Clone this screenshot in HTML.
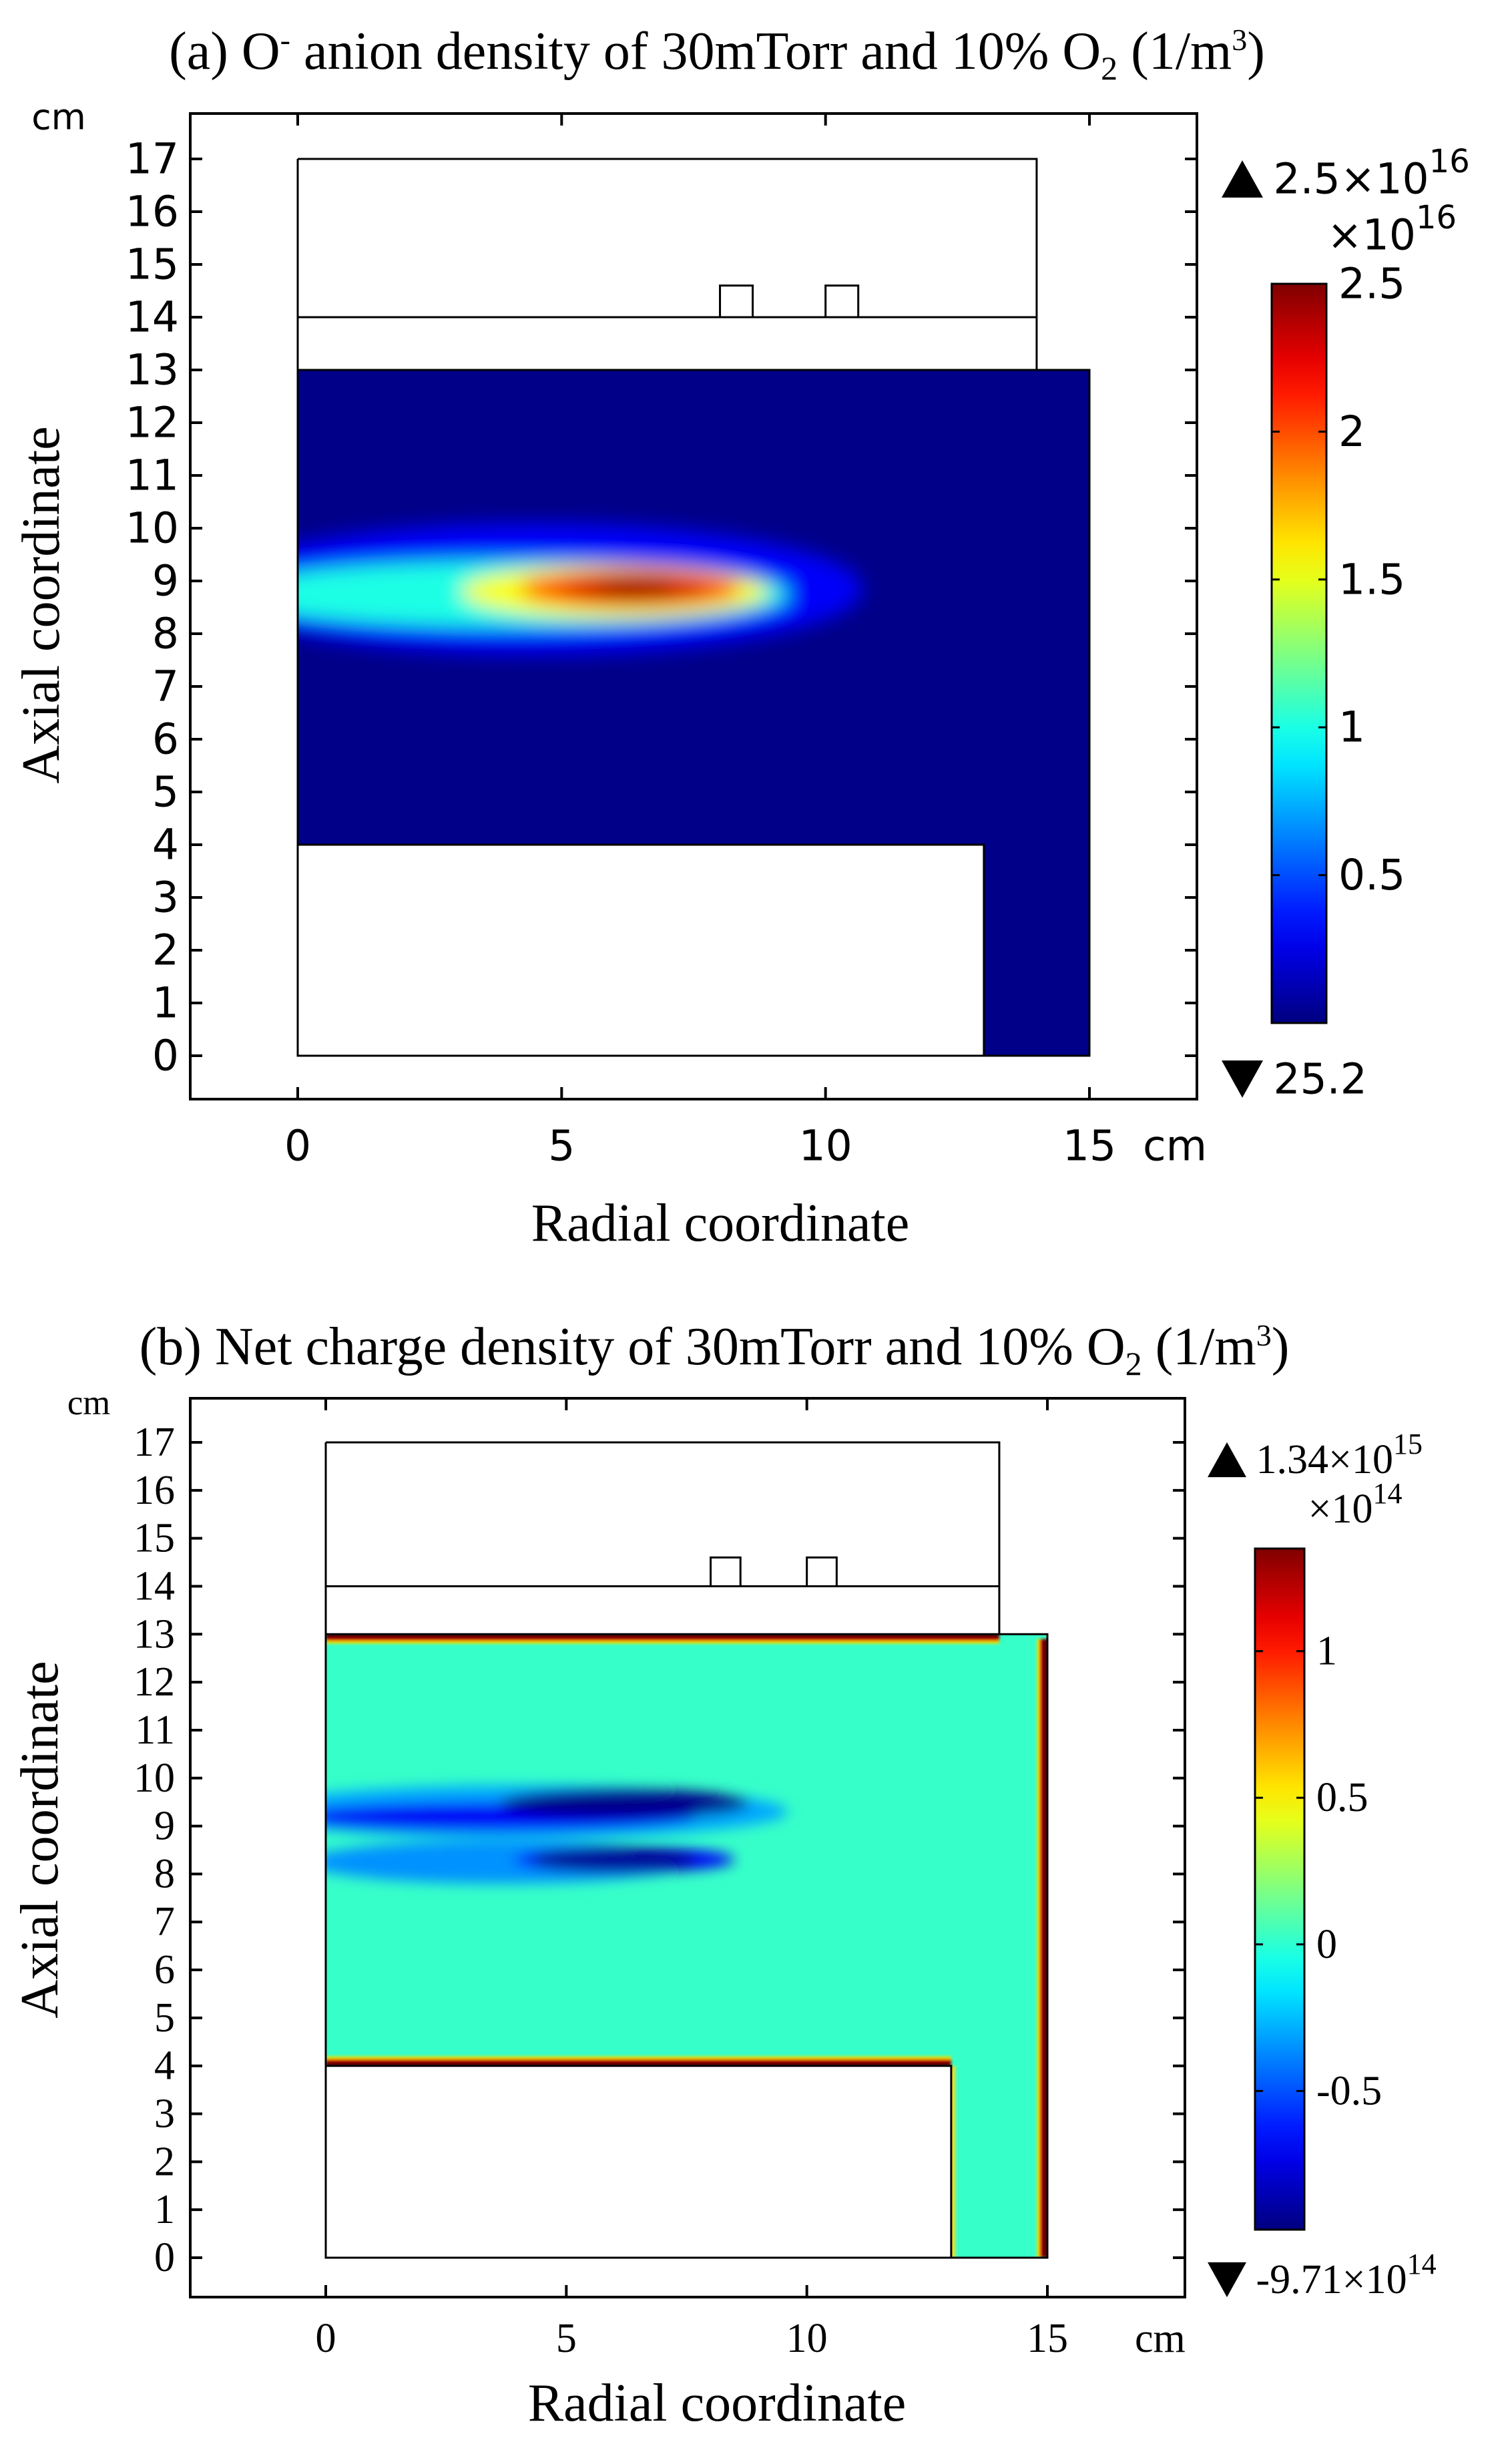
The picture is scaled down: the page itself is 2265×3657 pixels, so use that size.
<!DOCTYPE html>
<html><head><meta charset="utf-8">
<style>
html,body{margin:0;padding:0;background:#fff;}
svg{display:block;}
.sans{font-family:"DejaVu Sans","Liberation Sans",sans-serif;}
.serif{font-family:"Liberation Serif","DejaVu Serif",serif;}
</style></head>
<body>
<svg id="fig" width="2265" height="3657" viewBox="0 0 2265 3657" xmlns="http://www.w3.org/2000/svg">
<defs>
<filter id="blurA" x="-20%" y="-20%" width="140%" height="140%"><feGaussianBlur stdDeviation="15"/></filter>
<filter id="blurB" x="-20%" y="-20%" width="140%" height="140%"><feGaussianBlur stdDeviation="10"/></filter>
<filter id="blurE" x="-5%" y="-5%" width="110%" height="110%"><feGaussianBlur stdDeviation="2"/></filter>
</defs>
</svg>
<script>
// ---- data (panel a) ----
const aYTicks=[0,1,2,3,4,5,6,7,8,9,10,11,12,13,14,15,16,17];
const aXTicks=[0,5,10,15];
const aCbTicks=[0.5,1,1.5,2,2.5];
const aCbRange=[0.0,2.5];
// plume contours: [r centre, z centre, r radius, z radius, value]
const aBlobR=[4.5,4.0,6.0,6.3,6.4,6.4];
const aBlobZ=[8.85,8.75,8.8,8.85,8.85,8.88];
const aBlobRx=[6.2,5.3,2.9,2.1,1.4,0.75];
const aBlobRz=[1.25,0.62,0.5,0.36,0.24,0.14];
const aBlobV=[0.3,1.0,1.55,2.0,2.3,2.5];
// ---- data (panel b) ----
const bYTicks=aYTicks;
const bXTicks=[0,5,10,15];
const bCbTicks=[-0.5,0,0.5,1];
const bCbRange=[-0.973,1.35];
const bBlobR=[4.0,3.5,6.2,3.6,6.2,6.0];
const bBlobZ=[9.3,9.2,9.47,8.25,8.3,8.3];
const bBlobRx=[5.6,4.2,2.6,4.0,2.3,1.7];
const bBlobRz=[0.55,0.3,0.3,0.45,0.27,0.27];
const bBlobV=[-0.3,-0.7,-0.95,-0.35,-0.7,-0.92];

const NS="http://www.w3.org/2000/svg";
const svg=document.getElementById('fig');
function el(tag,attrs,parent){const e=document.createElementNS(NS,tag);for(const k in attrs)e.setAttribute(k,attrs[k]);(parent||svg).appendChild(e);return e;}
function jet(t){t=Math.max(0,Math.min(1,t));
 const r=Math.max(0,Math.min(1,1.5-Math.abs(4*t-3))),g=Math.max(0,Math.min(1,1.5-Math.abs(4*t-2))),b=Math.max(0,Math.min(1,1.5-Math.abs(4*t-1)));
 return `rgb(${Math.round(r*255)},${Math.round(g*255)},${Math.round(b*255)})`;}

function panel(P){
 const g=el('g',{});
 
 
 const X=r=>P.x0+(P.x15-P.x0)*r/15, Y=z=>P.y0+(P.y17-P.y0)*z/17;
 const norm=v=>(v-P.cb[0])/(P.cb[1]-P.cb[0]);
 const t=el('text',{x:P.titleX,y:P.titleY,'text-anchor':'middle','font-size':P.titleFs,class:'serif'},g);
 
 
 t.innerHTML=P.title;
 const clipId='clip'+P.id;
 const cp=el('clipPath',{id:clipId},g);
 el('path',{d:`M${X(0)},${Y(13)}H${X(15)}V${Y(0)}H${X(13)}V${Y(4)}H${X(0)}Z`},cp);
 const fg=el('g',{'clip-path':`url(#${clipId})`},g);
 
 
 el('rect',{x:X(0)-20,y:Y(13)-20,width:X(15)-X(0)+40,height:Y(0)-Y(13)+40,fill:jet(norm(P.bgV))},fg);
 const bg=el('g',{filter:`url(#${P.blur})`},fg);
 for(let i=0;i<P.bR.length;i++){
  const e=el('ellipse',{cx:X(P.bR[i]),cy:Y(P.bZ[i]),rx:X(P.bRx[i])-X(0),ry:Y(0)-Y(P.bRz[i]),fill:jet(norm(P.bV[i]))},bg);
  
  
 }
 if(P.edges){
  const eg=el('g',{filter:'url(#blurE)'},fg);
  const top=`M${X(0)},${Y(12.97)}H${X(14)}`, mid=`M${X(0)},${Y(4.03)}H${X(13)}`, rt=`M${X(14.95)},${Y(12.9)}V${Y(0)}`, st=`M${X(13.02)},${Y(4)}V${Y(0)}`;
  el('path',{d:top+mid+rt,stroke:'#f0e000',"stroke-width":24,fill:'none'},eg);
  el('path',{d:st,stroke:'#e8e030',"stroke-width":10,fill:'none'},eg);
  el('path',{d:top+mid+rt,stroke:'#e00000',"stroke-width":16,fill:'none'},eg);
  el('path',{d:top+mid+rt,stroke:'#600000',"stroke-width":9,fill:'none'},eg);
 }
 const go=el('path',{d:`M${X(0)},${Y(17)}H${X(14)}V${Y(13)}M${X(0)},${Y(14)}H${X(14)}M${X(8)},${Y(14)}V${Y(14.6)}H${X(8.62)}V${Y(14)}M${X(10)},${Y(14)}V${Y(14.6)}H${X(10.62)}V${Y(14)}M${X(0)},${Y(17)}V${Y(0)}H${X(13)}V${Y(4)}H${X(0)}M${X(0)},${Y(13)}H${X(15)}V${Y(0)}H${X(13)}`,fill:'none',stroke:'#000','stroke-width':3},g);
 
 
 const box=el('rect',{x:P.L,y:P.T,width:P.R-P.L,height:P.B-P.T,fill:'none',stroke:'#000','stroke-width':4},g);
 
 
 const tl=18;
 P.yt.forEach(v=>{
  el('line',{x1:P.L,x2:P.L+tl,y1:Y(v),y2:Y(v),stroke:'#000','stroke-width':4},g);
  el('line',{x1:P.R,x2:P.R-tl,y1:Y(v),y2:Y(v),stroke:'#000','stroke-width':4},g);
  const l=el('text',{x:P.ytx,y:Y(v),'text-anchor':'end','dominant-baseline':'central','font-size':P.tickFs,class:P.font},g);
  
  
  l.textContent=v;
 });
 P.xt.forEach(v=>{
  el('line',{x1:X(v),x2:X(v),y1:P.B,y2:P.B-tl,stroke:'#000','stroke-width':4},g);
  el('line',{x1:X(v),x2:X(v),y1:P.T,y2:P.T+tl,stroke:'#000','stroke-width':4},g);
  const l=el('text',{x:X(v),y:P.xty,'text-anchor':'middle','dominant-baseline':'central','font-size':P.tickFs,class:P.font},g);
  
  
  l.textContent=v;
 });
 const cmx=el('text',{x:P.cmX[0],y:P.cmX[1],'dominant-baseline':'central','font-size':P.tickFs,class:P.font},g);
 
 
 cmx.textContent='cm';
 const cmy=el('text',{x:P.cmY[0],y:P.cmY[1],'text-anchor':'middle','dominant-baseline':'central','font-size':P.tickFs*0.85,class:P.font},g);
 
 
 cmy.textContent='cm';
 const xl=el('text',{x:P.xlab[0],y:P.xlab[1],'text-anchor':'middle','font-size':P.labFs,class:'serif'},g);
 
 
 xl.textContent='Radial coordinate';
 const yl=el('text',{x:0,y:0,'text-anchor':'middle','font-size':P.labFs,class:'serif',transform:`translate(${P.ylab[0]},${P.ylab[1]}) rotate(-90)`},g);
 
 
 yl.textContent='Axial coordinate';
 const gid='cbg'+P.id;
 const lg=el('linearGradient',{id:gid,x1:0,y1:1,x2:0,y2:0},g);
 for(let i=0;i<=20;i++)el('stop',{offset:i/20,'stop-color':jet(i/20)},lg);
 const [cx1,cx2,cy1,cy2]=P.cbBox;
 const cbr=el('rect',{x:cx1,y:cy1,width:cx2-cx1,height:cy2-cy1,fill:`url(#${gid})`,stroke:'#000','stroke-width':3},g);
 
 
 const CY=v=>cy2-(cy2-cy1)*(v-P.cb[0])/(P.cb[1]-P.cb[0]);
 P.cbt.forEach(v=>{
  el('line',{x1:cx1,x2:cx1+12,y1:CY(v),y2:CY(v),stroke:'#000','stroke-width':3},g);
  el('line',{x1:cx2,x2:cx2-12,y1:CY(v),y2:CY(v),stroke:'#000','stroke-width':3},g);
  const l=el('text',{x:cx2+18,y:CY(v),'dominant-baseline':'central','font-size':P.tickFs,class:P.font},g);
  
  
  l.textContent=v;
 });
 const tw=P.tri;
 el('path',{d:`M${P.triX-tw/2},${P.maxY+tw*0.45}h${tw}l${-tw/2},${-tw*0.9}z`,fill:'#000'},g);
 el('path',{d:`M${P.triX-tw/2},${P.minY-tw*0.45}h${tw}l${-tw/2},${tw*0.9}z`,fill:'#000'},g);
 const mx=el('text',{x:P.triX+tw*0.75,y:P.maxY,'dominant-baseline':'central','font-size':P.tickFs,class:P.font},g);
 
 
 mx.innerHTML=P.maxTxt;
 const mn=el('text',{x:P.triX+tw*0.75,y:P.minY,'dominant-baseline':'central','font-size':P.tickFs,class:P.font},g);
 
 
 mn.innerHTML=P.minTxt;
 const sc=el('text',{x:P.scale[0],y:P.scale[1],'text-anchor':'middle','dominant-baseline':'central','font-size':P.tickFs,class:P.font},g);
 
 
 sc.innerHTML=P.scaleTxt;
}

panel({id:'a',title:'(a) O<tspan dy="-28" font-size="46">-</tspan><tspan dy="28"> anion density of 30mTorr and 10% O</tspan><tspan dy="16" font-size="50">2</tspan><tspan dy="-16"> (1/m</tspan><tspan dy="-28" font-size="46">3</tspan><tspan dy="28">)</tspan>',
 titleX:1074,titleY:103,titleFs:80,font:'sans',tickFs:63,labFs:80,
 L:285,R:1793,T:170,B:1646,x0:446,x15:1632,y0:1581,y17:238,ytx:268,xty:1716,
 cmX:[1712,1716],cmY:[88,175],xlab:[1079,1858],ylab:[88,906],
 yt:aYTicks,xt:aXTicks,cbt:aCbTicks,cb:aCbRange,bgV:0.02,blur:'blurA',edges:false,
 bR:aBlobR,bZ:aBlobZ,bRx:aBlobRx,bRz:aBlobRz,bV:aBlobV,
 cbBox:[1905,1987,425,1532],tri:62,triX:1861,maxY:268,minY:1616,
 maxTxt:'2.5×10<tspan dy="-26" font-size="48">16</tspan>',minTxt:'25.2',
 scale:[2085,352],scaleTxt:'×10<tspan dy="-26" font-size="48">16</tspan>'});

panel({id:'b',title:'(b) Net charge density of 30mTorr and 10% O<tspan dy="16" font-size="50">2</tspan><tspan dy="-16"> (1/m</tspan><tspan dy="-28" font-size="46">3</tspan><tspan dy="28">)</tspan>',
 titleX:1070,titleY:2043,titleFs:80,font:'serif',tickFs:62,labFs:80,
 L:285,R:1775,T:2094,B:3440,x0:488,x15:1569,y0:3381,y17:2160,ytx:262,xty:3502,
 cmX:[1700,3502],cmY:[133,2101],xlab:[1074,3625],ylab:[86,2755],
 yt:bYTicks,xt:bXTicks,cbt:bCbTicks,cb:bCbRange,bgV:0.02,blur:'blurB',edges:true,
 bR:bBlobR,bZ:bBlobZ,bRx:bBlobRx,bRz:bBlobRz,bV:bBlobV,
 cbBox:[1880,1954,2319,3339],tri:58,triX:1838,maxY:2186,minY:3414,
 maxTxt:'1.34×10<tspan dy="-24" font-size="44">15</tspan>',minTxt:'-9.71×10<tspan dy="-24" font-size="44">14</tspan>',
 scale:[2030,2260],scaleTxt:'×10<tspan dy="-24" font-size="44">14</tspan>'});
</script>
</body></html>
